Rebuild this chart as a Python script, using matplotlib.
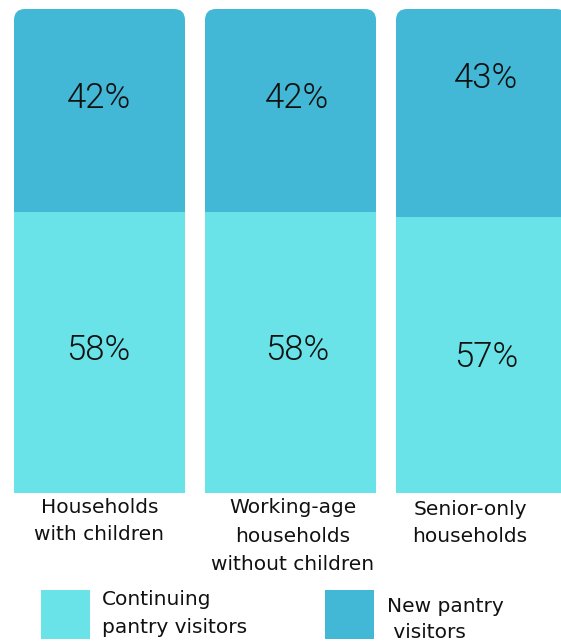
import matplotlib
matplotlib.use("Agg")
import matplotlib.pyplot as plt
from matplotlib.patches import FancyBboxPatch, Rectangle
import numpy as np

# Data
categories = ["Households\nwith children",
              "Working-age\nhouseholds\nwithout children",
              "Senior-only\nhouseholds"]
continuing = [58, 58, 57]
new_visitors = [42, 42, 43]
series_names = ["Continuing\npantry visitors", "New pantry\n visitors"]

# Style
LIGHT = "#69E3E7"
DARK = "#42B7D6"
TEXT = "#111111"
W, H = 561, 641
DPI = 100
plt.rcParams["font.family"] = ["DejaVu Sans"]

fig = plt.figure(figsize=(W / DPI, H / DPI), dpi=DPI)
fig.patch.set_facecolor("white")

# Axes placed so that bars span 9..493 px from the top
ax_bottom_px = H - 493
ax_height_px = 484
ax = fig.add_axes([0, ax_bottom_px / H, 1, ax_height_px / H])
ax.set_axis_off()

step_px = 191.0
first_center_px = 99.5
ax.set_xlim(-first_center_px / step_px, (W - first_center_px) / step_px)
ax.set_ylim(0, 100)

x = np.arange(len(categories))
width = 171 / step_px

ax.bar(x, continuing, width=width, color=LIGHT, linewidth=0, zorder=2)
top_bars = ax.bar(x, new_visitors, bottom=continuing, width=width,
                  color=DARK, linewidth=0, zorder=1)

# Round the top corners of the stacks by clipping the upper segments
radius_x = 11 / step_px
aspect = (100 / ax_height_px) / (1 / step_px)
for rect in top_bars:
    clip = FancyBboxPatch((rect.get_x(), rect.get_y() - 10),
                          rect.get_width(), rect.get_height() + 10,
                          boxstyle=f"round,pad=0,rounding_size={radius_x}",
                          mutation_aspect=aspect,
                          transform=ax.transData, facecolor="none",
                          edgecolor="none")
    rect.set_clip_path(clip)

# Percentage labels: baseline offsets (px, downward) from segment centres
px_to_data = 100 / ax_height_px
new_dy = [-2.5, -2.5, -25]
cont_dy = [7.5, 7.5, 12]
label_dx = [-1, 6.5, 4.5]
pct_font = dict(family=["Roboto", "DejaVu Sans"], fontsize=25,
                fontweight=300, color=TEXT, ha="center", va="baseline",
                zorder=5)
for i in range(len(categories)):
    xc = x[i] + label_dx[i] / step_px
    y_new = continuing[i] + new_visitors[i] / 2 - new_dy[i] * px_to_data
    ax.text(xc, y_new, f"{new_visitors[i]}%", **pct_font)
    y_cont = continuing[i] / 2 - cont_dy[i] * px_to_data
    ax.text(xc, y_cont, f"{continuing[i]}%", **pct_font)

# Category labels below the bars (one text per line, baselines in px)
label_cx = [99.5, 293, 470]
label_baselines = [[513, 540], [513, 542, 570], [515, 542]]
for cat, cx, bases in zip(categories, label_cx, label_baselines):
    for line, b in zip(cat.split("\n"), bases):
        fig.text(cx / W, 1 - b / H, line, ha="center", va="baseline",
                 fontsize=14.5, color=TEXT)

# Legend
legend_boxes = [(41, 590, LIGHT), (325, 590, DARK)]
legend_text_x = [102, 387]
legend_baselines = [[605, 633], [612, 638]]
for (bx, by, col), tx, bases, name in zip(legend_boxes, legend_text_x,
                                          legend_baselines, series_names):
    fig.patches.append(Rectangle((bx / W, 1 - (by + 49) / H), 49 / W, 49 / H,
                                 transform=fig.transFigure, facecolor=col,
                                 edgecolor="none"))
    for line, b in zip(name.split("\n"), bases):
        fig.text(tx / W, 1 - b / H, line, ha="left", va="baseline",
                 fontsize=14.5, color=TEXT)

fig.savefig("out.png", dpi=DPI, facecolor="white")
